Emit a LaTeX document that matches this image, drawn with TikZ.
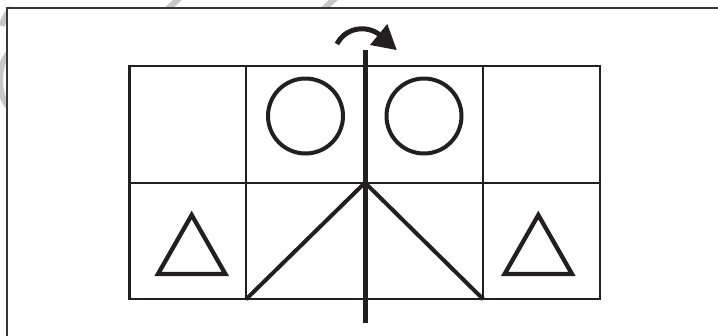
\documentclass[tikz,border=0pt]{standalone}
\begin{document}
\begin{tikzpicture}[x=1pt,y=-1pt,
  gridline/.style={line width=2.2pt, draw=ink},
  figline/.style={line width=4pt, draw=ink},
  axisline/.style={line width=5pt, draw=ink},
  frameline/.style={line width=2pt, draw=black!78},
  wm/.style={line width=6pt, draw=black!22}]
\definecolor{ink}{RGB}{35,31,32}
\useasboundingbox (0,0) rectangle (718,335);
\clip (0,0) rectangle (718,335);
% watermark fragments (visible only outside the frame)
\draw[wm] (184,-6) -- (160,16);
\draw[wm] (340,-6) -- (316,16);
\draw[wm] (12,8) .. controls (6,14) and (3,20) .. (2,26);
\draw[wm] (12,50) .. controls (-4,62) and (-4,98) .. (12,110);
% frame
\fill[white] (7,8) rectangle (740,360);
\draw[frameline] (7,360) -- (7,8) -- (740,8);
% grid
\coordinate (tl) at (129.5,65.7);
\coordinate (br) at (600,299.3);
\coordinate (c) at (365,182.7);
\draw[gridline] (tl) rectangle (br);
\draw[gridline] (129.5,182.7) -- (600,182.7);
\draw[gridline] (246,65.7) -- (246,299.3);
\draw[gridline] (483.3,65.7) -- (483.3,299.3);
% circles
\draw[figline] (305.5,116) circle (37.5);
\draw[figline] (424,116) circle (37.5);
% triangles
\draw[figline, line width=4.3pt, line join=miter] (158,274) -- (191.7,215) -- (225.4,274) -- cycle;
\draw[figline, line width=4.3pt, line join=miter] (572,274) -- (538.3,215) -- (504.6,274) -- cycle;
% diagonals
\coordinate (bl2) at (246,299.3);
\coordinate (br2) at (483.3,299.3);
\draw[figline] (c) -- (bl2);
\draw[figline] (c) -- (br2);
% axis
\coordinate (atop) at (365,49.5);
\coordinate (abot) at (365,322.7);
\draw[axisline] (atop) -- (abot);
% rotation arrow
\draw[axisline] (337,44) .. controls (345,28) and (366,24) .. (380,35);
\fill[ink] (387.3,24) -- (396.7,50) -- (370,45) -- cycle;
\end{tikzpicture}
\end{document}
